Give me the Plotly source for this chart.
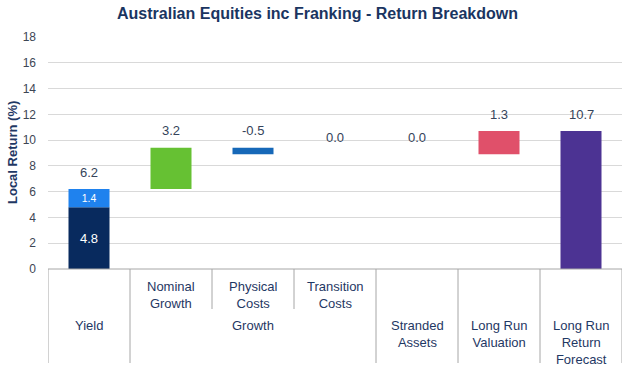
import plotly.graph_objects as go

# ---- data ----
categories = ["Yield", "Nominal Growth", "Physical Costs", "Transition Costs",
              "Stranded Assets", "Long Run Valuation", "Long Run Return Forecast"]
cat_index = list(range(len(categories)))

# drawn segments (category index, bottom, top, colour, inside label)
seg_cat = [0, 0, 1, 2, 5, 6]
seg_bottom = [0.0, 4.8, 6.2, 8.9, 8.9, 0.0]
seg_top = [4.8, 6.2, 9.4, 9.4, 10.7, 10.7]
seg_colors = ["#082a5e", "#1f82ee", "#66c133", "#1668b8", "#e0506a", "#4c3393"]
seg_inside = ["4.8", "1.4", "", "", "", ""]

# value labels above each column
label_cat = [0, 1, 2, 3, 4, 5, 6]
label_text = ["6.2", "3.2", "-0.5", "0.0", "0.0", "1.3", "10.7"]
label_at = [6.2, 9.4, 9.4, 8.9, 8.9, 10.7, 10.7]

# lower table: top row (sub-components) and bottom row (groups)
top_row_x = [1, 2, 3]
top_row_text = ["Nominal<br>Growth", "Physical<br>Costs", "Transition<br>Costs"]
bottom_row_x = [0, 2, 4, 5, 6]
bottom_row_text = ["Yield", "Growth", "Stranded<br>Assets", "Long Run<br>Valuation",
                   "Long Run<br>Return<br>Forecast"]
full_dividers = [-0.5, 0.5, 3.5, 4.5, 5.5, 6.5]
partial_dividers = [1.5, 2.5]

y_ticks = [0, 2, 4, 6, 8, 10, 12, 14, 16, 18]

# ---- figure ----
W, H = 628, 366
ML, MR, MT, MB = 48, 6, 37, 97
plot_w = W - ML - MR
plot_h = H - MT - MB
FONT = "Liberation Sans, Arial"

def py(pix):
    """pixel row -> paper y"""
    return (H - MB - pix) / plot_h

fig = go.Figure()
fig.add_trace(go.Bar(
    x=seg_cat,
    y=[t - b for t, b in zip(seg_top, seg_bottom)],
    base=seg_bottom,
    width=0.5,
    marker=dict(color=seg_colors, line=dict(width=0)),
    text=seg_inside,
    textposition="inside",
    insidetextanchor="middle",
    textfont=dict(color="white", size=13, family=FONT),
    hoverinfo="skip",
    showlegend=False,
))

annotations = []
for c, t, v in zip(label_cat, label_text, label_at):
    annotations.append(dict(x=c, y=v, xref="x", yref="y", text=t, showarrow=False,
                            yshift=17, yanchor="middle",
                            font=dict(size=13, color="#35435a", family=FONT)))

cat_font = dict(size=13, color="#1f3864", family=FONT)
for c, t in zip(top_row_x, top_row_text):
    annotations.append(dict(x=c, y=py(277), xref="x", yref="paper", text=t, showarrow=False,
                            yanchor="top", font=cat_font))
for c, t in zip(bottom_row_x, bottom_row_text):
    annotations.append(dict(x=c, y=py(316), xref="x", yref="paper", text=t, showarrow=False,
                            yanchor="top", font=cat_font))

annotations.append(dict(x=(12 - ML) / plot_w, y=0.5, xref="paper", yref="paper",
                        xanchor="center", yanchor="middle",
                        text="<b>Local Return (%)</b>", textangle=-90, showarrow=False,
                        font=dict(size=13, color="#1f3864", family=FONT)))

shapes = []
line_col = "#a6a6a6"
shapes.append(dict(type="line", xref="x", yref="paper", x0=-0.5, x1=6.5, y0=0, y1=0,
                   line=dict(color=line_col, width=1)))
for d in full_dividers:
    shapes.append(dict(type="line", xref="x", yref="paper", x0=d, x1=d, y0=0, y1=py(363),
                       line=dict(color=line_col, width=1)))
for d in partial_dividers:
    shapes.append(dict(type="line", xref="x", yref="paper", x0=d, x1=d, y0=0, y1=py(309),
                       line=dict(color=line_col, width=1)))

fig.update_layout(
    width=W, height=H,
    margin=dict(l=ML, r=MR, t=MT, b=MB, pad=0, autoexpand=False),
    paper_bgcolor="white", plot_bgcolor="white",
    barmode="overlay",
    hovermode=False,
    title=dict(text="<b>Australian Equities inc Franking - Return Breakdown</b>",
               xref="container", x=317.5 / W, xanchor="center",
               yref="container", y=1 - 13 / H, yanchor="middle",
               font=dict(size=16, color="#1a3561", family=FONT)),
    xaxis=dict(range=[-0.5, 6.5], showticklabels=False, showgrid=False, zeroline=False,
               showline=False, fixedrange=True, automargin=False),
    yaxis=dict(range=[0, 18], tickvals=y_ticks, showgrid=True, gridcolor="#d9d9d9",
               gridwidth=1, zeroline=False, showline=False, ticklabelstandoff=11,
               automargin=False, fixedrange=True,
               tickfont=dict(size=12, color="#3d4654", family=FONT)),
    annotations=annotations,
    shapes=shapes,
    font=dict(family=FONT),
)

fig.write_html("out.html",
               config={"displayModeBar": False, "staticPlot": True},
               post_script="document.body.style.margin='0';document.body.style.overflow='hidden';")
